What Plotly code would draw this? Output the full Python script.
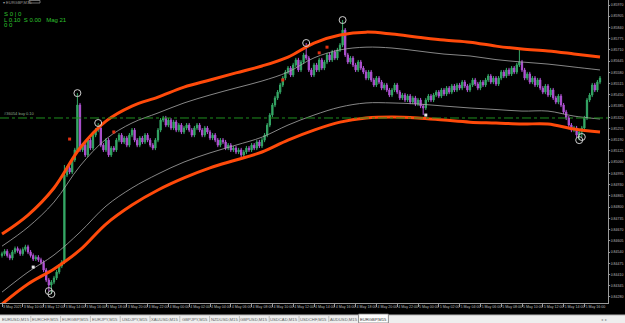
import plotly.graph_objects as go

# ---------------- data (EURGBP, M15) ----------------
first_open = 0.84520
closes = [
    0.84530, 0.84545, 0.84520, 0.84505, 0.84540, 0.84560, 0.84548, 0.84530, 0.84555, 0.84570,
    0.84540, 0.84520, 0.84500, 0.84510, 0.84495, 0.84480, 0.84436, 0.84378, 0.84349, 0.84366,
    0.84390, 0.84424, 0.84459, 0.84482, 0.84986, 0.85026, 0.85003, 0.85073, 0.85131, 0.85391,
    0.85131, 0.85159, 0.85102, 0.85188, 0.85142, 0.85217, 0.85246, 0.85258, 0.85159, 0.85131,
    0.85188, 0.85102, 0.85142, 0.85131, 0.85188, 0.85217, 0.85177, 0.85200, 0.85159, 0.85217,
    0.85246, 0.85188, 0.85159, 0.85200, 0.85177, 0.85217, 0.85188, 0.85159, 0.85142, 0.85188,
    0.85246, 0.85304, 0.85316, 0.85275, 0.85304, 0.85258, 0.85293, 0.85246, 0.85275, 0.85235,
    0.85258, 0.85275, 0.85246, 0.85217, 0.85258, 0.85275, 0.85246, 0.85217, 0.85258, 0.85235,
    0.85200, 0.85217, 0.85188, 0.85159, 0.85188, 0.85177, 0.85142, 0.85159, 0.85131, 0.85142,
    0.85119, 0.85131, 0.85102, 0.85119, 0.85142, 0.85131, 0.85159, 0.85142, 0.85177, 0.85154,
    0.85188, 0.85217, 0.85275, 0.85333, 0.85391, 0.85432, 0.85466, 0.85507, 0.85547, 0.85582,
    0.85605, 0.85565, 0.85623, 0.85652, 0.85594, 0.85640, 0.85681, 0.85663, 0.85594, 0.85565,
    0.85623, 0.85594, 0.85652, 0.85605, 0.85640, 0.85681, 0.85652, 0.85698, 0.85663, 0.85710,
    0.85738, 0.85825, 0.85681, 0.85640, 0.85663, 0.85623, 0.85594, 0.85640, 0.85605, 0.85582,
    0.85547, 0.85582, 0.85536, 0.85507, 0.85547, 0.85524, 0.85489, 0.85507, 0.85478, 0.85449,
    0.85478, 0.85507, 0.85466, 0.85432, 0.85449, 0.85420, 0.85443, 0.85408, 0.85432, 0.85397,
    0.85420, 0.85385, 0.85374, 0.85420, 0.85443, 0.85420, 0.85449, 0.85466, 0.85443, 0.85478,
    0.85455, 0.85489, 0.85466, 0.85501, 0.85478, 0.85507, 0.85489, 0.85524, 0.85501, 0.85478,
    0.85507, 0.85536, 0.85513, 0.85489, 0.85524, 0.85507, 0.85536, 0.85559, 0.85524, 0.85547,
    0.85513, 0.85547, 0.85582, 0.85559, 0.85594, 0.85571, 0.85605, 0.85582, 0.85623, 0.85640,
    0.85594, 0.85547, 0.85571, 0.85524, 0.85547, 0.85507, 0.85536, 0.85489, 0.85466, 0.85501,
    0.85449, 0.85478, 0.85432, 0.85408, 0.85443, 0.85391, 0.85351, 0.85316, 0.85275, 0.85246,
    0.85258, 0.85217, 0.85235, 0.85258, 0.85316, 0.85420, 0.85449, 0.85507, 0.85478, 0.85524,
    0.85547,
]
wick = 0.00012
high_marks = {24: 0.85044, 29: 0.85460, 37: 0.85287, 117: 0.85750, 131: 0.85883, 199: 0.85710}
low_marks = {18: 0.84314, 19: 0.84297, 24: 0.84470, 93: 0.85084, 162: 0.85333, 222: 0.85188, 223: 0.85206}

band_bars = [0, 10, 20, 30, 40, 50, 60, 70, 80, 90, 100, 110, 120, 130, 140, 150, 160, 170, 180, 190, 200, 210, 220, 230]
upper_band = [0.84644, 0.84754, 0.84911, 0.85142, 0.85298, 0.85385, 0.85437, 0.85495, 0.85536, 0.85577, 0.85617, 0.85669,
              0.85750, 0.85796, 0.85813, 0.85802, 0.85784, 0.85767, 0.85755, 0.85732, 0.85715, 0.85704, 0.85687, 0.85669]
upper_inner = [0.84574, 0.84684, 0.84829, 0.85038, 0.85194, 0.85287, 0.85345, 0.85403, 0.85449, 0.85490, 0.85530, 0.85582,
               0.85664, 0.85710, 0.85726, 0.85721, 0.85704, 0.85686, 0.85675, 0.85654, 0.85640, 0.85628, 0.85611, 0.85594]
lower_inner = [0.84308, 0.84424, 0.84523, 0.84655, 0.84806, 0.84911, 0.84992, 0.85061, 0.85114, 0.85159, 0.85205, 0.85275,
               0.85333, 0.85379, 0.85403, 0.85403, 0.85397, 0.85385, 0.85374, 0.85365, 0.85356, 0.85356, 0.85327, 0.85310]
lower_band = [0.84239, 0.84355, 0.84442, 0.84552, 0.84702, 0.84812, 0.84899, 0.84969, 0.85027, 0.85073, 0.85119, 0.85188,
              0.85246, 0.85292, 0.85316, 0.85322, 0.85316, 0.85304, 0.85292, 0.85287, 0.85281, 0.85281, 0.85252, 0.85235]

circle_high_bars = [29, 37, 117, 131]
circle_low_bars = [18, 19, 222, 223]
red_dot_bars = [26, 43, 108, 122, 125]
red_dot_prices = [0.85194, 0.85235, 0.85536, 0.85693, 0.85726]
white_dot_bars = [12, 163]
white_dot_prices = [0.84453, 0.85333]

order_price = 0.85316
order_label = "#36054 buy 0.10"

price_ticks = [round(0.85970 - 0.00065 * k, 5) for k in range(27)]
time_labels = ["3 May 2021", "3 May 10:00", "3 May 12:00", "3 May 14:00", "3 May 16:00", "3 May 18:00",
               "3 May 20:00", "3 May 22:00", "4 May 00:00", "4 May 02:00", "4 May 04:00", "4 May 06:00",
               "4 May 08:00", "4 May 10:00", "4 May 12:00", "4 May 14:00", "4 May 16:00", "4 May 18:00",
               "4 May 20:00", "4 May 22:00", "5 May 00:00", "5 May 02:00", "5 May 04:00", "5 May 06:00",
               "5 May 08:00", "5 May 10:00", "5 May 12:00", "5 May 14:00", "5 May 16:00"]
bars_per_label = 8
tabs = ["EURUSD,M15", "EURCHF,M15", "EURGBP,M15", "EURJPY,M15", "USDJPY,M15", "XAUUSD,M15", "GBPJPY,M15",
        "NZDUSD,M15", "GBPUSD,M15", "USDCAD,M15", "USDCHF,M15", "AUDUSD,M15", "EURGBP,M15"]
info_lines = ["S 0 | 0", "L 0.10  S 0.00   Mag 21", "0 0"]

# ---------------- build OHLC ----------------
bars = list(range(len(closes)))
opens = [first_open] + closes[:-1]
highs = [high_marks.get(i, max(o, c) + wick) for i, (o, c) in enumerate(zip(opens, closes))]
lows = [low_marks.get(i, min(o, c) - wick) for i, (o, c) in enumerate(zip(opens, closes))]

GREEN = "#35A866"
PURPLE = "#B153D4"
ORANGE = "#FF4A0A"
GRAY = "#A8A8A8"
AXIS = "#9A9A9A"
FONT = "Liberation Sans"

W, H = 625, 323
ML, MR, MT, MB = 0, 17, 0, 20
PW, PH = W - ML - MR, H - MT - MB

fig = go.Figure()
fig.add_trace(go.Candlestick(
    x=bars, open=opens, high=highs, low=lows, close=closes,
    increasing=dict(line=dict(color=GREEN, width=1), fillcolor=GREEN),
    decreasing=dict(line=dict(color=PURPLE, width=1), fillcolor=PURPLE),
    whiskerwidth=0, hoverinfo="skip", showlegend=False))

for vals, col, wd in [(upper_inner, GRAY, 0.8), (lower_inner, GRAY, 0.8),
                      (upper_band, ORANGE, 3), (lower_band, ORANGE, 3)]:
    fig.add_trace(go.Scatter(x=band_bars, y=vals, mode="lines",
                             line=dict(color=col, width=wd, shape="spline", smoothing=1.0),
                             hoverinfo="skip", showlegend=False))

fig.add_trace(go.Scatter(x=red_dot_bars, y=red_dot_prices, mode="markers",
                         marker=dict(symbol="square", size=3, color="#E03010"),
                         hoverinfo="skip", showlegend=False))
fig.add_trace(go.Scatter(x=white_dot_bars, y=white_dot_prices, mode="markers",
                         marker=dict(symbol="square", size=3, color="#E8E8E8"),
                         hoverinfo="skip", showlegend=False))
cx = circle_high_bars + circle_low_bars
cy = [highs[i] for i in circle_high_bars] + [lows[i] for i in circle_low_bars]
fig.add_trace(go.Scatter(x=cx, y=cy, mode="markers",
                         marker=dict(symbol="circle-open", size=7, color="#D0D0D0", line=dict(width=1)),
                         hoverinfo="skip", showlegend=False))

# order line
fig.add_shape(type="line", xref="paper", x0=0, x1=1, yref="y", y0=order_price, y1=order_price,
              line=dict(color="#1F8F1F", width=1, dash="dashdot"))
fig.add_annotation(x=0.003, xref="paper", y=order_price, yref="y", text=order_label, showarrow=False,
                   xanchor="left", yanchor="bottom", font=dict(size=4, color="#8FA88F", family=FONT))

# top-left info
for k, t in enumerate(info_lines):
    fig.add_annotation(x=2 / PW, xref="paper", y=1 - (14 + 5.5 * k) / PH, yref="paper", text=t,
                       showarrow=False, xanchor="left", yanchor="middle",
                       font=dict(size=6, color="#2FC02F", family=FONT))
# window title
fig.add_annotation(x=1 / PW, xref="paper", y=1 - 2.5 / PH, yref="paper", text="▾ EURGBP,M15", showarrow=False,
                   xanchor="left", yanchor="middle", font=dict(size=4, color="#9A9A9A", family=FONT))
fig.add_shape(type="rect", xref="paper", yref="paper", x0=29 / PW, x1=40 / PW, y0=1 - 3 / PH, y1=1 - 0.5 / PH,
              line=dict(color="#8A8A8A", width=0.8))

# tab bar
y_top = -12 / PH
y_bot = -20 / PH
fig.add_shape(type="rect", xref="paper", yref="paper", x0=0, x1=W / PW, y0=y_bot, y1=y_top,
              fillcolor="#EEEEEE", line=dict(width=0), layer="above")
fig.add_shape(type="line", xref="paper", yref="paper", x0=0, x1=W / PW, y0=y_top, y1=y_top,
              line=dict(color="#B8B8B8", width=1))
tab_w = 29.8
for i, t in enumerate(tabs):
    left = 1 + i * tab_w
    active = i == len(tabs) - 1
    if active:
        fig.add_shape(type="rect", xref="paper", yref="paper", x0=left / PW, x1=(left + tab_w) / PW,
                      y0=y_bot, y1=y_top + 1 / PH, fillcolor="#FFFFFF", line=dict(color="#7A7A7A", width=0.8))
    else:
        fig.add_shape(type="line", xref="paper", yref="paper", x0=(left + tab_w) / PW, x1=(left + tab_w) / PW,
                      y0=y_bot + 1 / PH, y1=y_top - 1 / PH, line=dict(color="#B0B0B0", width=0.8))
    fig.add_annotation(x=(left + tab_w / 2) / PW, xref="paper", y=(y_top + y_bot) / 2, yref="paper", text=t,
                       showarrow=False, xanchor="center", yanchor="middle",
                       font=dict(size=4.2, color="#303030" if active else "#606060", family=FONT))
fig.add_annotation(x=604 / PW, xref="paper", y=(y_top + y_bot) / 2, yref="paper", text="◂  ▸", showarrow=False,
                   xanchor="center", yanchor="middle", font=dict(size=4, color="#909090", family=FONT))

px_per_bar = 2.6
x0 = -2 / px_per_bar
x1 = x0 + PW / px_per_bar

fig.update_layout(
    width=W, height=H, margin=dict(l=ML, r=MR, t=MT, b=MB),
    paper_bgcolor="#000000", plot_bgcolor="#000000",
    font=dict(family=FONT, color="#BDBDBD"),
    showlegend=False,
    xaxis=dict(range=[x0, x1], rangeslider=dict(visible=False), showgrid=False, zeroline=False,
               tickvals=[i * bars_per_label for i in range(len(time_labels))], ticktext=time_labels,
               ticks="outside", ticklen=3, tickcolor=AXIS, ticklabelposition="outside right",
               tickfont=dict(size=3.6, color="#BDBDBD", family=FONT), tickangle=0,
               showline=True, linecolor=AXIS, linewidth=1, fixedrange=True, automargin=False),
    yaxis=dict(range=[0.84245, 0.85999], side="right", showgrid=False, zeroline=False,
               tickvals=price_ticks, ticktext=[f"{v:.5f}" for v in price_ticks],
               ticks="outside", ticklen=1, tickcolor=AXIS,
               tickfont=dict(size=3.5, color="#BDBDBD", family=FONT),
               showline=True, linecolor=AXIS, linewidth=1, fixedrange=True, automargin=False),
)

fig.write_html("out.html")
